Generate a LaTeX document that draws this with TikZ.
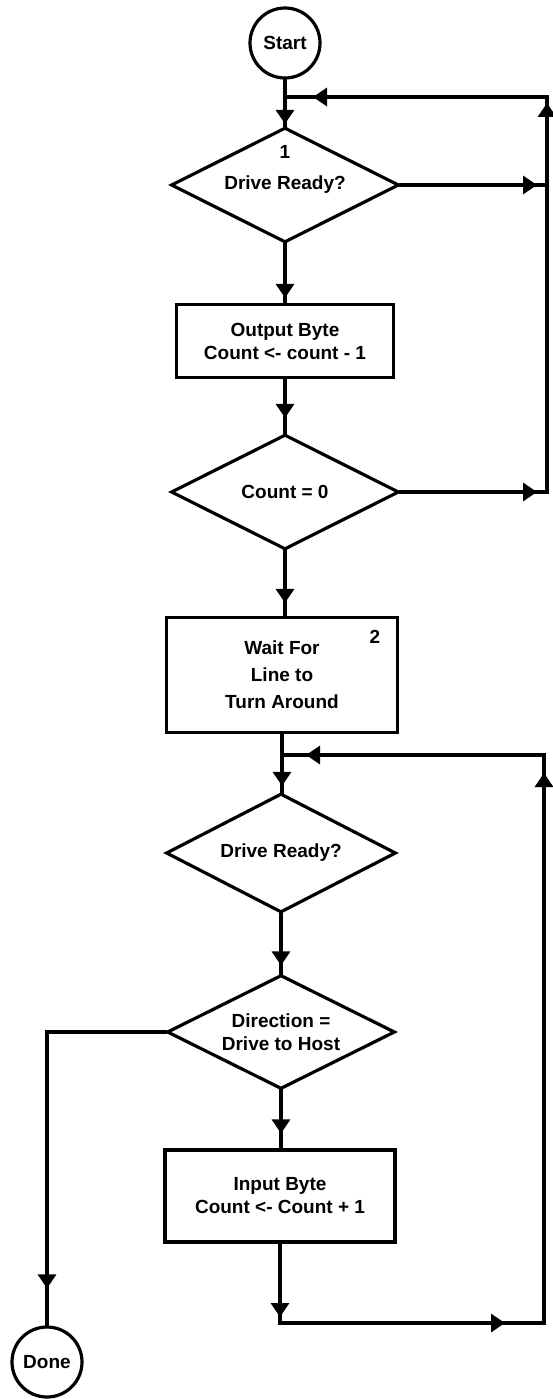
\documentclass[tikz,border=0pt]{standalone}
\usepackage{fontspec}
\setmainfont{Liberation Sans}
\usetikzlibrary{shapes.geometric,arrows.meta,decorations.markings}
\begin{document}
\begin{tikzpicture}[x=1pt,y=-1pt, line width=3.2pt, line cap=rect,
  every node/.style={font=\fontsize{19}{23}\selectfont\bfseries},
  term/.style={circle, draw, minimum size=70pt, inner sep=0pt},
  dec/.style={diamond, draw, aspect=2, inner sep=0pt, minimum width=228pt, minimum height=115pt, align=center},
  proc/.style={rectangle, draw, inner sep=0pt, align=center},
  tipat/.style={postaction={decorate}, decoration={markings, mark=at position #1 with {\arrow{Triangle[length=14pt,width=18pt]}}}},
]
\useasboundingbox (0,0) rectangle (553,1399);
% nodes
\node[term] (start) at (285,43) {Start};
\node[dec] (d1) at (285,185) {Drive Ready?};
\node (n1) at (285,152) {1};
\node[proc, minimum width=217pt, minimum height=73pt] (b1) at (285,341) {Output Byte\\Count <- count - 1};
\node[dec] (d2) at (285,492) {Count = 0};
\node[proc, minimum width=231pt, minimum height=115pt, font=\fontsize{19}{27}\selectfont\bfseries] (b2) at (282,675) {Wait For\\Line to\\Turn Around};
\node (n2) at (375,637) {2};
\node[dec, minimum height=119pt, minimum width=230pt] (d3) at (281,853) {Drive Ready?};
\node[dec, minimum height=114pt, minimum width=228pt] (d4) at (281,1032) {Direction =\\Drive to Host};
\node[proc, minimum width=230pt, minimum height=92pt] (b3) at (280,1196) {Input Byte\\Count <- Count + 1};
\node[term] (done) at (47,1362) {Done};
% coordinates
\coordinate (j1) at (285,97);
\coordinate (c1) at (547,97);
\coordinate (r1) at (547,185);
\coordinate (r2) at (547,492);
\coordinate (j2) at (282,755);
\coordinate (c2) at (544,755);
\coordinate (j3) at (280,1323);
\coordinate (c3) at (544,1323);
\coordinate (l1) at (47,1032);
% main flow
\draw[tipat=-2pt] (start) -- (d1);
\draw[tipat=-5pt] (d1) -- (b1);
\draw[tipat=-15pt] (b1) -- (d2);
\draw[tipat=-13pt] (d2.south) -- (d2.south |- b2.north);
\draw[tipat=-6pt] (b2.south) -- (b2.south |- d3.north);
\draw[tipat=-8pt] (d3) -- (d4);
\draw[tipat=-15pt] (d4.south) -- (d4.south |- b3.north);
\draw[tipat=-6pt] (b3.south) -- (j3);
% lower loop
\draw[tipat=-39pt] (j3) -- (c3);
\draw[tipat=-18pt] (c3) -- (c2);
\draw[tipat=-24pt] (c2) -- (j2);
% upper loop
\draw[tipat=-10pt] (d1.east) -- (r1);
\draw[tipat=-10pt] (d2.east) -- (r2);
\draw[tipat=-6pt] (r2) -- (c1);
\draw[tipat=-28pt] (c1) -- (j1);
% exit
\draw (d4.west) -- (l1);
\draw[tipat=-37pt] (l1) -- (done);
\end{tikzpicture}
\end{document}
